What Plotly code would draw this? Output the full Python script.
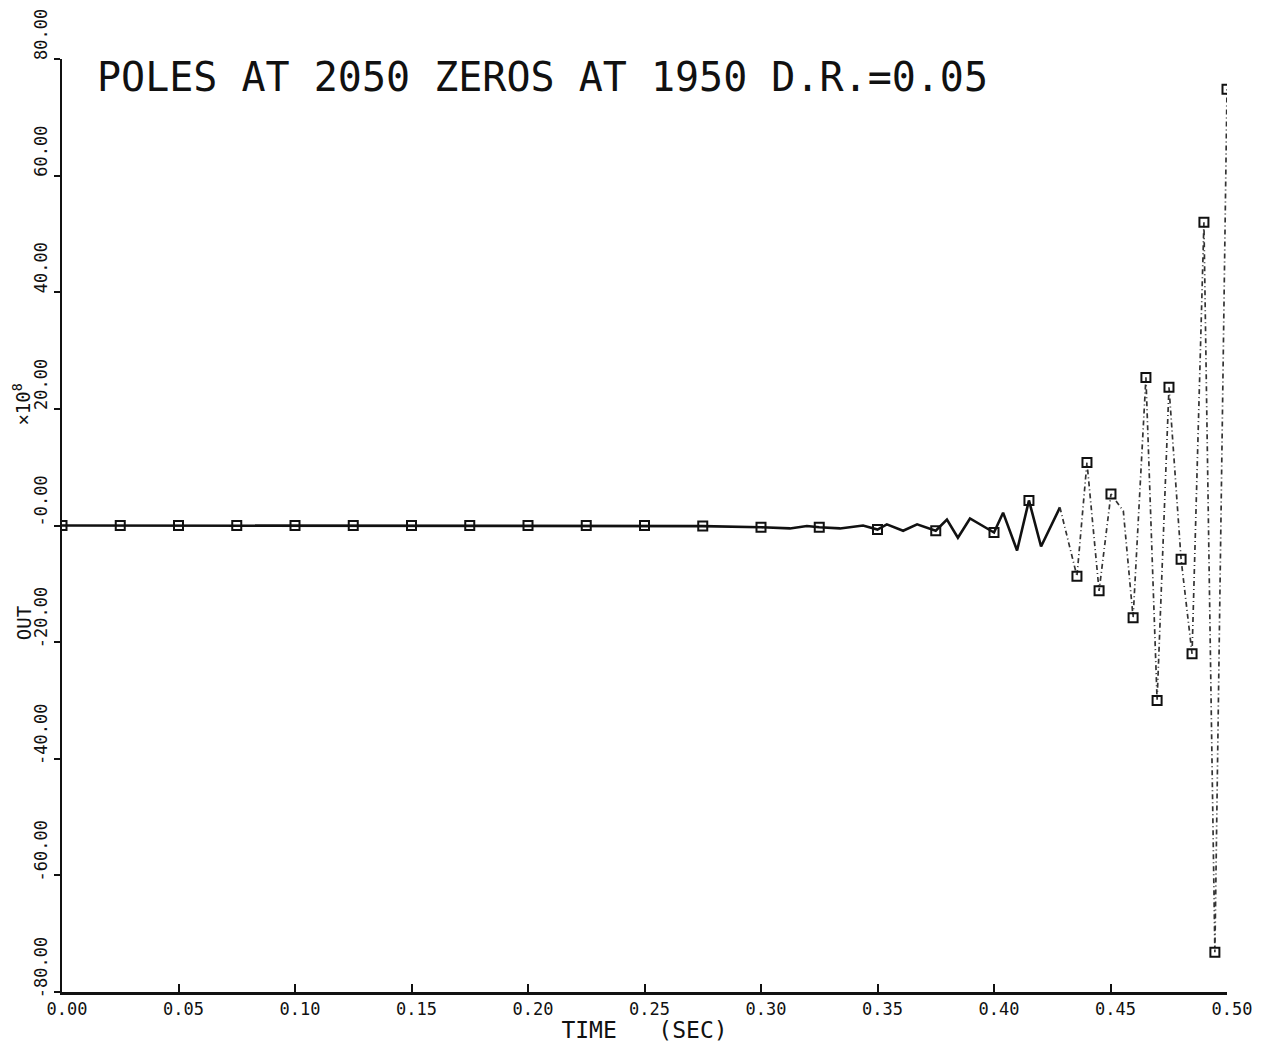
import plotly.graph_objects as go

# ---------------- data ----------------
time_line = [0.000, 0.025, 0.050, 0.075, 0.100, 0.125, 0.150, 0.175, 0.200,
             0.225, 0.250, 0.275, 0.300, 0.3124, 0.3197, 0.325, 0.3339, 0.3438,
             0.350, 0.354, 0.361, 0.367, 0.375, 0.3798, 0.3845, 0.3897, 0.400,
             0.4039, 0.4099, 0.415, 0.4202, 0.4283]
out_line = [0.0, 0.0, 0.0, 0.0, 0.0, 0.0, 0.0, 0.0, 0.0,
            0.0, 0.0, -0.1, -0.3, -0.5, -0.1, -0.3, -0.5, 0.0,
            -0.7, 0.2, -0.9, 0.2, -0.9, 1.0, -2.1, 1.2, -1.2,
            2.2, -4.3, 4.3, -3.6, 3.1]

time_tail = [0.4283, 0.4356, 0.4399, 0.4451, 0.4502, 0.4555, 0.4597, 0.4652,
             0.4700, 0.4751, 0.4803, 0.4850, 0.4901, 0.4948, 0.5000]
out_tail = [3.1, -8.7, 10.8, -11.2, 5.4, 2.5, -15.8, 25.4,
            -30.0, 23.7, -5.8, -22.0, 52.0, -73.2, 74.8]

time_markers = [0.000, 0.025, 0.050, 0.075, 0.100, 0.125, 0.150, 0.175, 0.200,
                0.225, 0.250, 0.275, 0.300, 0.325, 0.350, 0.375, 0.400, 0.415,
                0.4356, 0.4399, 0.4451, 0.4502, 0.4597, 0.4652, 0.4700, 0.4751,
                0.4803, 0.4850, 0.4901, 0.4948, 0.5000]
out_markers = [0.0, 0.0, 0.0, 0.0, 0.0, 0.0, 0.0, 0.0, 0.0,
               0.0, 0.0, -0.1, -0.3, -0.3, -0.7, -0.9, -1.2, 4.3,
               -8.7, 10.8, -11.2, 5.4, -15.8, 25.4, -30.0, 23.7,
               -5.8, -22.0, 52.0, -73.2, 74.8]

x_ticks = [0.00, 0.05, 0.10, 0.15, 0.20, 0.25, 0.30, 0.35, 0.40, 0.45, 0.50]
x_tick_labels = ["0.00", "0.05", "0.10", "0.15", "0.20", "0.25",
                 "0.30", "0.35", "0.40", "0.45", "0.50"]
y_ticks = [80, 60, 40, 20, 0, -20, -40, -60, -80]
y_tick_labels = ["80.00", "60.00", "40.00", "20.00", "-0.00",
                 "-20.00", "-40.00", "-60.00", "-80.00"]

title_text = "POLES AT 2050 ZEROS AT 1950 D.R.=0.05"

# ---------------- figure ----------------
FONT = "DejaVu Sans Mono"
INK = "#111111"

fig = go.Figure()
fig.add_trace(go.Scatter(x=time_line, y=out_line, mode="lines",
                         line=dict(color=INK, width=2.6), hoverinfo="skip",
                         showlegend=False))
fig.add_trace(go.Scatter(x=time_tail, y=out_tail, mode="lines",
                         line=dict(color="#333333", width=1.7, dash="5px,3px,1px,3px"),
                         hoverinfo="skip", showlegend=False))
fig.add_trace(go.Scatter(x=time_markers, y=out_markers, mode="markers",
                         marker=dict(symbol="square-open", size=9, color=INK,
                                     line=dict(width=2, color=INK)),
                         showlegend=False))

# the page body has an 8px margin, so the figure is sized/placed to compensate
fig.update_layout(
    width=1263, height=1035,
    margin=dict(l=54, r=44, t=51, b=51, autoexpand=False),
    paper_bgcolor="white", plot_bgcolor="white",
    font=dict(family=FONT, color=INK),
    xaxis=dict(range=[0, 0.5], tickvals=x_ticks, ticktext=x_tick_labels,
               ticks="inside", ticklen=8, tickwidth=1.5, tickcolor=INK,
               showline=True, linewidth=2.5, linecolor=INK, automargin=False,
               showgrid=False, zeroline=False, ticklabelshift=5,
               ticklabeloverflow="allow",
               tickfont=dict(size=17, family=FONT),
               title=dict(text="TIME   (SEC)", font=dict(size=23, family=FONT),
                          standoff=0)),
    yaxis=dict(range=[-80, 80], tickvals=y_ticks, ticktext=y_tick_labels,
               ticks="outside", ticklen=6, tickwidth=1.5, tickcolor=INK,
               tickangle=-90, ticklabelshift=-22, automargin=False,
               ticklabeloverflow="allow",
               showline=True, linewidth=1.5, linecolor=INK,
               showgrid=False, zeroline=False,
               tickfont=dict(size=17, family=FONT)),
)

fig.add_annotation(text=title_text, xref="paper", yref="paper",
                   x=0.028, y=0.981, xanchor="left", yanchor="middle",
                   showarrow=False, font=dict(size=40, family=FONT, color=INK))
fig.add_annotation(text="OUT", xref="paper", yref="paper",
                   x=-0.032, y=0.395, xanchor="center", yanchor="middle",
                   textangle=-90, showarrow=False,
                   font=dict(size=19, family=FONT, color=INK))
fig.add_annotation(text="×10<sup>8</sup>", xref="paper", yref="paper",
                   x=-0.034, y=0.63, xanchor="center", yanchor="middle",
                   textangle=-90, showarrow=False,
                   font=dict(size=19, family=FONT, color=INK))

fig.write_html("out.html")
